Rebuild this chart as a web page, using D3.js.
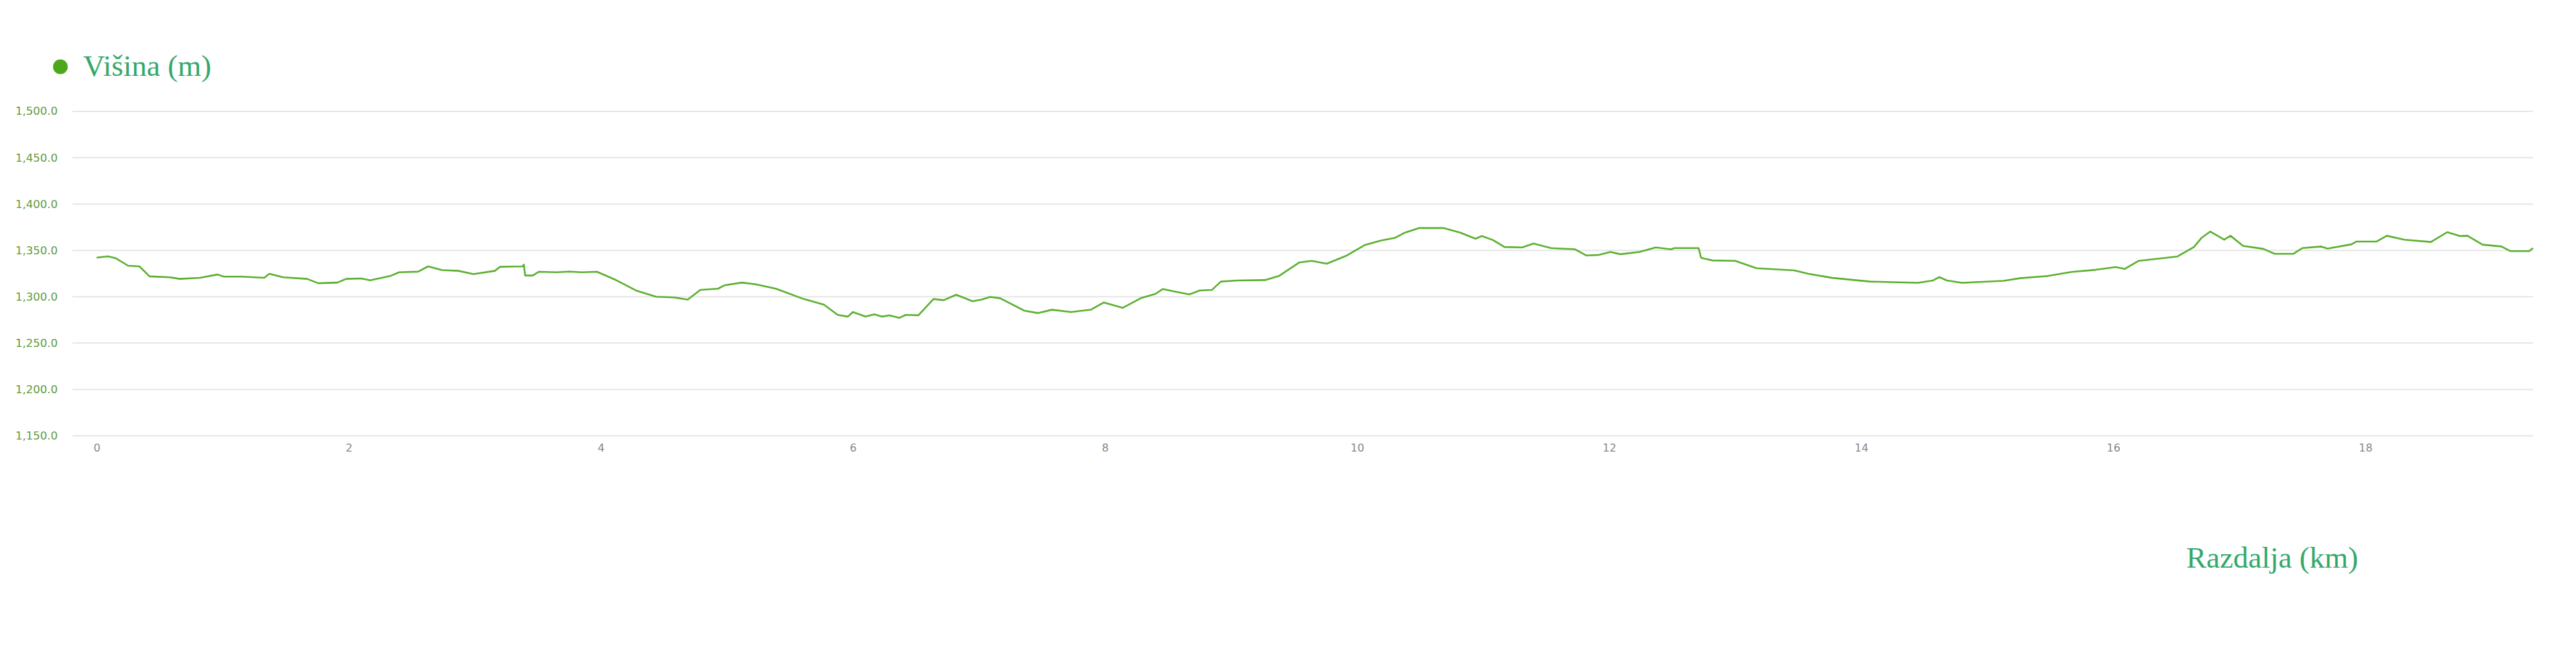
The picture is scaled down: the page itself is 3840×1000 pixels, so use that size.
<!DOCTYPE html>
<html>
<head>
<meta charset="utf-8">
<script src="https://cdn.jsdelivr.net/npm/d3@7"></script>
<style>
  html, body { margin: 0; padding: 0; background: #ffffff; }
  svg { display: block; }
</style>
</head>
<body>
<svg id="chart" width="3840" height="1000"></svg>
<script>
// ---- data ----
const seriesName = "Višina (m)";
const xAxisTitle = "Razdalja (km)";
const distanceKm = [
  0.00, 0.09, 0.15, 0.25, 0.34, 0.42, 0.58, 0.66, 0.82, 0.96,
  1.01, 1.15, 1.33, 1.37, 1.48, 1.67, 1.76, 1.91, 1.98, 2.10,
  2.17, 2.33, 2.40, 2.55, 2.63, 2.74, 2.87, 2.99, 3.16, 3.20,
  3.38, 3.39, 3.40, 3.46, 3.51, 3.65, 3.75, 3.85, 3.97, 4.12,
  4.28, 4.44, 4.58, 4.69, 4.79, 4.93, 4.98, 5.12, 5.23, 5.39,
  5.61, 5.77, 5.88, 5.96, 6.00, 6.10, 6.17, 6.23, 6.29, 6.37,
  6.42, 6.52, 6.64, 6.72, 6.82, 6.95, 7.02, 7.09, 7.17, 7.36,
  7.47, 7.58, 7.73, 7.89, 7.99, 8.14, 8.29, 8.40, 8.46, 8.54,
  8.67, 8.75, 8.85, 8.92, 9.05, 9.27, 9.38, 9.54, 9.64, 9.76,
  9.92, 10.06, 10.19, 10.30, 10.38, 10.49, 10.69, 10.82, 10.94, 10.99,
  11.08, 11.17, 11.31, 11.40, 11.54, 11.73, 11.82, 11.92, 12.01, 12.09,
  12.24, 12.37, 12.49, 12.52, 12.71, 12.73, 12.82, 13.00, 13.17, 13.47,
  13.58, 13.77, 14.07, 14.45, 14.57, 14.62, 14.68, 14.80, 15.13, 15.26,
  15.48, 15.67, 15.86, 16.02, 16.09, 16.20, 16.31, 16.51, 16.64, 16.70,
  16.77, 16.88, 16.93, 17.03, 17.19, 17.28, 17.43, 17.50, 17.65, 17.70,
  17.89, 17.93, 18.09, 18.17, 18.31, 18.52, 18.65, 18.75, 18.81, 18.93,
  19.08, 19.15, 19.30, 19.33
];
const elevationM = [
  1342.2, 1343.6, 1341.7, 1333.5, 1332.8, 1322.0, 1321.0, 1319.3, 1320.5, 1324.0,
  1321.7, 1321.7, 1320.5, 1324.8, 1321.0, 1319.3, 1314.6, 1315.3, 1319.3, 1319.8,
  1317.7, 1322.4, 1326.4, 1327.1, 1332.8, 1328.8, 1328.0, 1324.5, 1328.0, 1332.3,
  1332.8, 1334.7, 1322.9, 1322.9, 1327.0, 1326.5, 1327.2, 1326.4, 1327.0, 1318.1,
  1306.8, 1300.0, 1299.3, 1297.0, 1307.5, 1308.7, 1312.3, 1315.3, 1313.4, 1308.7,
  1297.6, 1291.5, 1280.5, 1278.6, 1283.5, 1278.6, 1281.0, 1278.6, 1280.0, 1277.3,
  1280.5, 1280.0, 1297.6, 1296.3, 1302.2, 1295.1, 1297.0, 1299.8, 1298.3, 1285.0,
  1282.4, 1286.0, 1283.5, 1286.1, 1293.8, 1288.0, 1298.8, 1303.1, 1308.4, 1306.0,
  1302.6, 1306.7, 1307.5, 1316.4, 1317.6, 1318.0, 1322.4, 1336.9, 1338.8, 1335.7,
  1344.6, 1355.7, 1360.6, 1363.5, 1369.2, 1374.1, 1374.1, 1369.2, 1362.6, 1365.5,
  1361.1, 1353.7, 1353.2, 1357.4, 1352.5, 1351.2, 1344.5, 1345.2, 1348.3, 1345.9,
  1348.3, 1353.2, 1351.2, 1352.5, 1352.5, 1342.0, 1339.2, 1338.7, 1330.8, 1328.4,
  1324.8, 1320.4, 1316.4, 1315.1, 1317.6, 1321.2, 1317.6, 1315.1, 1317.2, 1320.0,
  1322.4, 1326.8, 1329.1, 1332.0, 1330.0, 1338.7, 1340.4, 1343.5, 1353.7, 1363.5,
  1370.4, 1361.6, 1365.8, 1354.9, 1351.7, 1346.4, 1346.4, 1352.5, 1354.2, 1352.0,
  1356.6, 1359.6, 1359.6, 1365.8, 1361.6, 1359.1, 1369.7, 1365.5, 1365.8, 1356.2,
  1354.2, 1349.3, 1349.3, 1352.5
];
const yTicks = [1150, 1200, 1250, 1300, 1350, 1400, 1450, 1500];
const xTicks = [0, 2, 4, 6, 8, 10, 12, 14, 16, 18];

// ---- layout ----
const plotLeft = 108, plotRight = 3776;
const svg = d3.select("#chart");
const x = d3.scaleLinear().domain([0, 18]).range([144, 3526]);
const y = d3.scaleLinear().domain([1150, 1500]).range([649.5, 166]);

const fmtY = d3.format(",.1f");

// gridlines
svg.append("g")
  .selectAll("line")
  .data(yTicks)
  .join("line")
  .attr("x1", plotLeft).attr("x2", plotRight)
  .attr("y1", d => y(d)).attr("y2", d => y(d))
  .attr("stroke", "#e6e6e6")
  .attr("stroke-width", 2);

// y axis labels
const yAxis = d3.axisLeft(y).tickValues(yTicks).tickFormat(fmtY).tickSize(0).tickPadding(0);
const gy = svg.append("g").attr("transform", `translate(86,0)`).call(yAxis);
gy.select(".domain").remove();
gy.selectAll("text")
  .attr("fill", "#5f9a3c")
  .attr("font-family", "'DejaVu Sans', Verdana, sans-serif")
  .attr("font-size", "16.5px")
  .attr("dy", "0.3em");

// x axis labels
const xAxis = d3.axisBottom(x).tickValues(xTicks).tickFormat(d3.format("d")).tickSize(0).tickPadding(0);
const gx = svg.append("g").attr("transform", `translate(0,666)`).call(xAxis);
gx.select(".domain").remove();
gx.selectAll("text")
  .attr("fill", "#888888")
  .attr("font-family", "'DejaVu Sans', Verdana, sans-serif")
  .attr("font-size", "16px")
  .attr("dy", "0.45em");

// line
const pts = distanceKm.map((d, i) => [d, elevationM[i]]);
const line = d3.line().x(d => x(d[0])).y(d => y(d[1])).curve(d3.curveLinear);
svg.append("path")
  .datum(pts)
  .attr("fill", "none")
  .attr("stroke", "#5bb030")
  .attr("stroke-width", 2.6)
  .attr("stroke-linejoin", "round")
  .attr("d", line);

// legend
svg.append("circle").attr("cx", 90).attr("cy", 99.5).attr("r", 11).attr("fill", "#4ea71a");
svg.append("text")
  .attr("x", 124).attr("y", 113)
  .attr("fill", "#34a86a")
  .attr("font-family", "'Liberation Serif', 'Times New Roman', serif")
  .attr("font-size", "45px")
  .text(seriesName);

// x axis title
svg.append("text")
  .attr("x", 3259).attr("y", 846)
  .attr("fill", "#34a86a")
  .attr("font-family", "'Liberation Serif', 'Times New Roman', serif")
  .attr("font-size", "45px")
  .text(xAxisTitle);
</script>
</body>
</html>
